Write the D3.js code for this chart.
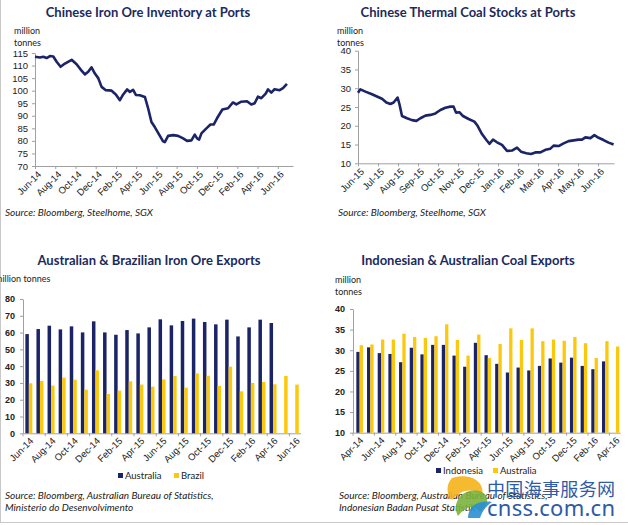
<!DOCTYPE html>
<html>
<head>
<meta charset="utf-8">
<script src="https://cdn.jsdelivr.net/npm/d3@7"></script>
<style>
  body { margin: 0; background: #fff; }
  svg { display: block; font-family: Lato, "Open Sans", sans-serif; }
  .title { font-weight: bold; font-size: 13px; fill: #1c2a5c; }
  .unit { font-size: 9px; fill: #222; }
  .src { font-style: italic; font-size: 10px; fill: #222; }
  .axis text { font-size: 9.5px; fill: #222; }
  .axis path, .axis line { stroke: #a0a0a0; }
  .legend text { font-size: 9.5px; fill: #222; }
</style>
</head>
<body>
<svg id="chart" width="628" height="525"></svg>
<script>
// Eisenerz-Lager an chinesischen Häfen (Monate ab Jun-14)
const ironMonths = [0, 0.49, 0.82, 1.15, 1.48, 1.81, 2.14, 2.53, 2.96, 3.62, 4.11, 4.6, 4.93, 5.26, 5.59, 5.92,
  6.25, 6.58, 7.0, 7.57, 7.99, 8.39, 8.72, 9.11, 9.38, 9.7, 9.97, 10.36, 10.86, 11.18, 11.51, 11.84, 12.27,
  12.66, 12.83, 13.16, 13.65, 14.14, 14.64, 15.03, 15.46, 15.79, 16.02, 16.22, 16.45, 16.94, 17.34, 17.66,
  17.99, 18.52, 19.08, 19.57, 19.9, 20.39, 20.95, 21.38, 21.71, 22.04, 22.37, 22.8, 23.03, 23.36, 23.68,
  24.18, 24.51, 24.9];
const ironValues = [113.5, 113.2, 113.5, 113.0, 113.8, 113.6, 111.5, 109.5, 110.8, 112.3, 110.5, 108, 106.5, 107.5,
  109.3, 106.8, 105, 101.5, 100.2, 100, 98.5, 96.2, 98.5, 100.5, 99.5, 100.3, 98.3, 98.2, 97.5, 93, 87.5, 85.5,
  82.5, 79.8, 79.5, 82, 82.3, 82, 81, 80, 80.2, 82.5, 81, 80.5, 83, 85, 86.5, 86.5, 89, 92.5, 93, 95.3, 94.5,
  95.6, 95.8, 94.5, 95, 97.6, 97, 98.8, 100.5, 99.2, 100.6, 100.2, 101, 102.7];
const ironTicks = ["Jun-14", "Aug-14", "Oct-14", "Dec-14", "Feb-15", "Apr-15", "Jun-15", "Aug-15", "Oct-15",
  "Dec-15", "Feb-16", "Apr-16", "Jun-16"];

// Kraftwerkskohle an chinesischen Häfen (Monate ab Jun-15)
const coalMonths = [0, 0.12, 0.37, 0.7, 1.03, 1.2, 1.42, 1.62, 1.78, 1.98, 2.07, 2.2, 2.45, 2.7, 2.92, 3.12, 3.37,
  3.62, 3.87, 4.12, 4.37, 4.62, 4.78, 4.9, 5.08, 5.25, 5.53, 5.82, 5.98, 6.2, 6.42, 6.58, 6.75, 6.95, 7.2, 7.45,
  7.7, 7.95, 8.15, 8.42, 8.65, 8.87, 9.12, 9.37, 9.62, 9.78, 10.03, 10.28, 10.53, 10.78, 11.03, 11.2, 11.37,
  11.62, 11.82, 12.03, 12.28, 12.53, 12.78];
const coalValues = [28.8, 29.7, 29.1, 28.4, 27.6, 27.2, 26.2, 25.8, 26.2, 27.5, 25.8, 22.6, 22, 21.5, 21.3, 22,
  22.7, 22.9, 23.3, 24.2, 24.8, 25.1, 25.1, 23.5, 23.6, 22.6, 21.8, 21.1, 20, 17.8, 16.2, 15.2, 16.3, 15.6,
  14.9, 13.3, 13.4, 14.2, 13.1, 12.7, 12.5, 12.9, 12.9, 13.6, 13.9, 14.7, 14.6, 15.3, 15.9, 16.1, 16.3, 16.3,
  16.9, 16.7, 17.5, 16.8, 16.2, 15.5, 15];
const coalTicks = ["Jun-15", "Jul-15", "Aug-15", "Sep-15", "Oct-15", "Nov-15", "Dec-15", "Jan-16", "Feb-16",
  "Mar-16", "Apr-16", "May-16", "Jun-16"];

// Eisenerz-Exporte Australien / Brasilien
const oreMonths = ["Jun-14", "Jul-14", "Aug-14", "Sep-14", "Oct-14", "Nov-14", "Dec-14", "Jan-15", "Feb-15",
  "Mar-15", "Apr-15", "May-15", "Jun-15", "Jul-15", "Aug-15", "Sep-15", "Oct-15", "Nov-15", "Dec-15",
  "Jan-16", "Feb-16", "Mar-16", "Apr-16", "May-16", "Jun-16"];
const australiaOre = [59.1, 62.1, 64.1, 61.9, 63.7, 60.1, 66.7, 60.1, 58.7, 61.5, 59.5, 63.1, 67.9, 64.3, 66.9,
  68.3, 66.3, 64.9, 67.7, 57.7, 63.1, 67.7, 65.7, null, null];
const brazilOre = [29.8, 31.2, 28.4, 33.1, 31.9, 26, 37.5, 23.4, 25.4, 31, 29, 27.8, 32.1, 34.1, 27.2, 35.7, 34.3,
  28.2, 39.7, 25, 30, 30.6, 29.2, 34.1, 29];

// Kohle-Exporte Indonesien / Australien
const coalExpMonths = ["Apr-14", "May-14", "Jun-14", "Jul-14", "Aug-14", "Sep-14", "Oct-14", "Nov-14", "Dec-14",
  "Jan-15", "Feb-15", "Mar-15", "Apr-15", "May-15", "Jun-15", "Jul-15", "Aug-15", "Sep-15", "Oct-15",
  "Nov-15", "Dec-15", "Jan-16", "Feb-16", "Mar-16", "Apr-16"];
const indonesiaCoal = [29.6, 30.7, 29.3, 29.1, 27.1, 30.6, 29.0, 31.3, 31.3, 28.7, 26.0, 31.8, 28.8, 26.7, 24.6,
  25.8, 25.1, 26.2, 28.0, 27.0, 28.2, 26.2, 25.4, 27.3, null];
const australiaCoal = [31.2, 31.4, 32.6, 32.6, 34.0, 33.2, 33.0, 33.4, 36.3, 32.5, 28.7, 33.8, 28.1, 31.5, 35.3,
  32.5, 35.3, 32.2, 32.6, 32.3, 33.2, 31.7, 28.1, 32.2, 30.9];

const NAVY = "#1a2466";
const YELLOW = "#fcc80c";

const svg = d3.select("#chart");

// Rahmen links und unten
svg.append("line").attr("x1", 0.5).attr("x2", 0.5).attr("y1", 0).attr("y2", 522).attr("stroke", "#c8c8c8");
svg.append("line").attr("x1", 0).attr("x2", 628).attr("y1", 522.5).attr("y2", 522.5).attr("stroke", "#c8c8c8");

function header(title, tx, ty, unitLines, ux, uy) {
    svg.append("text").attr("class", "title").attr("x", tx).attr("y", ty)
        .attr("text-anchor", "middle").text(title);
    unitLines.forEach(function(t, i) {
        svg.append("text").attr("class", "unit").attr("x", ux).attr("y", uy + i * 11.5).text(t);
    });
}

function source(lines, x, y) {
    lines.forEach(function(t, i) {
        svg.append("text").attr("class", "src").attr("x", x).attr("y", y + i * 12).text(t);
    });
}

function rotateLabels(sel) {
    sel.selectAll("text")
        .attr("text-anchor", "end")
        .attr("dx", "-0.2em")
        .attr("dy", "0.5em")
        .attr("transform", "rotate(-45)");
}

// Liniendiagramm
function lineChart(o) {
    const x = d3.scaleLinear().domain(o.xDomain).range(o.xRange);
    const y = d3.scaleLinear().domain(o.yDomain).range(o.yRange);

    svg.append("g").attr("class", "axis")
        .attr("transform", "translate(" + o.xRange[0] + ",0)")
        .call(d3.axisLeft(y).tickValues(d3.range(o.yDomain[0], o.yDomain[1] + 1, o.yStep))
            .tickSize(3).tickSizeOuter(0).tickPadding(4));

    const xa = svg.append("g").attr("class", "axis")
        .attr("transform", "translate(0," + o.yRange[0] + ")")
        .call(d3.axisBottom(x).tickValues(o.ticks.map(function(d, i) { return i * o.tickStep; }))
            .tickFormat(function(d, i) { return o.ticks[i]; })
            .tickSize(3).tickSizeOuter(0).tickPadding(3));
    rotateLabels(xa);

    const pts = o.months.map(function(m, i) { return [m, o.values[i]]; });
    svg.append("path")
        .datum(pts)
        .attr("fill", "none")
        .attr("stroke", NAVY)
        .attr("stroke-width", 2.6)
        .attr("stroke-linejoin", "round")
        .attr("d", d3.line().x(function(d) { return x(d[0]); }).y(function(d) { return y(d[1]); }));
}

// Säulendiagramm mit zwei Reihen
function barChart(o) {
    const x = d3.scaleBand().domain(o.cats).range(o.xRange);
    const y = d3.scaleLinear().domain(o.yDomain).range(o.yRange);
    const bw = o.barWidth;

    svg.append("g").attr("class", "axis")
        .attr("transform", "translate(" + o.xRange[0] + ",0)")
        .call(d3.axisLeft(y).tickValues(d3.range(o.yDomain[0], o.yDomain[1] + 1, o.yStep))
            .tickSize(3).tickSizeOuter(0).tickPadding(5))
        .selectAll("text").style("font-weight", "bold").style("font-size", "9px");

    const labelCats = o.cats.filter(function(d, i) { return i % 2 === 0; });
    const xa = svg.append("g").attr("class", "axis")
        .attr("transform", "translate(0," + o.yRange[0] + ")")
        .call(d3.axisBottom(x).tickValues(labelCats).tickSize(0).tickSizeOuter(0).tickPadding(5));
    rotateLabels(xa);

    // Teilstriche alle zwei Kategorien
    const bounds = d3.range(0, o.cats.length + 1, 2).map(function(i) { return o.xRange[0] + i * x.step(); });
    svg.append("g").selectAll("line").data(bounds).join("line")
        .attr("x1", function(d) { return d; }).attr("x2", function(d) { return d; })
        .attr("y1", o.yRange[0]).attr("y2", o.yRange[0] + 3)
        .attr("stroke", "#a0a0a0");

    [[o.a, NAVY, -bw], [o.b, YELLOW, 0]].forEach(function(s) {
        svg.append("g").selectAll("rect")
            .data(o.cats.map(function(c, i) { return { c: c, v: s[0][i] }; })
                .filter(function(d) { return d.v !== null; }))
            .join("rect")
            .attr("x", function(d) { return x(d.c) + x.bandwidth() / 2 + s[2] + o.shift; })
            .attr("width", bw)
            .attr("y", function(d) { return y(d.v); })
            .attr("height", function(d) { return o.yRange[0] - y(d.v); })
            .attr("fill", s[1]);
    });

    const lg = svg.append("g").attr("class", "legend");
    o.legend.forEach(function(l, i) {
        lg.append("rect").attr("x", l.x).attr("y", o.legendY - 6).attr("width", 5).attr("height", 5)
            .attr("fill", i === 0 ? NAVY : YELLOW);
        lg.append("text").attr("x", l.x + 7).attr("y", o.legendY).text(l.t);
    });
}

// oben links
header("Chinese Iron Ore Inventory at Ports", 148, 17, ["million", "tonnes"], 14, 34);
lineChart({
    months: ironMonths, values: ironValues, ticks: ironTicks, tickStep: 2,
    xDomain: [0, 25.5], xRange: [35, 293],
    yDomain: [70, 115], yRange: [166, 53], yStep: 5
});
source(["Source: Bloomberg, Steelhome, SGX"], 5, 216);

// oben rechts
header("Chinese Thermal Coal Stocks at Ports", 468, 17, ["million", "tonnes"], 337, 34);
lineChart({
    months: coalMonths, values: coalValues, ticks: coalTicks, tickStep: 1,
    xDomain: [0, 12.8], xRange: [358, 614],
    yDomain: [10, 40], yRange: [163.3, 50.7], yStep: 5
});
source(["Source: Bloomberg, Steelhome, SGX"], 338, 216);

// unten links
header("Australian & Brazilian Iron Ore Exports", 149, 265, ["million tonnes"], -5, 282);
barChart({
    cats: oreMonths, a: australiaOre, b: brazilOre,
    xRange: [23, 300.5], yDomain: [0, 80], yRange: [433.3, 299], yStep: 10,
    barWidth: 3.5, shift: 0.3,
    legendY: 479, legend: [{ x: 118, t: "Australia" }, { x: 174, t: "Brazil" }]
});
source(["Source: Bloomberg, Australian Bureau of Statistics,", "Ministerio do Desenvolvimento"], 5, 499);

// unten rechts
header("Indonesian & Australian Coal Exports", 468, 265, ["million", "tonnes"], 335, 283);
barChart({
    cats: coalExpMonths, a: indonesiaCoal, b: australiaCoal,
    xRange: [353, 620], yDomain: [10, 40], yRange: [432.7, 309], yStep: 5,
    barWidth: 3.3, shift: 1.3,
    legendY: 474, legend: [{ x: 436, t: "Indonesia" }, { x: 493, t: "Australia" }]
});
source(["Source: Bloomberg, Australian Bureau of Statistics,", "Indonesian Badan Pusat Statistik"], 339, 499);

// Wasserzeichen
const wm = svg.append("g");
wm.append("path").attr("d", "M452,478 C470,472 486,482 482,496 C474,488 462,488 452,500 C446,494 446,484 452,478 Z")
    .attr("fill", "#f5b21a").attr("opacity", 0.9);
wm.append("path").attr("d", "M458,516 C450,500 466,486 482,492 C490,496 488,506 480,512 C474,504 466,506 458,516 Z")
    .attr("fill", "#7bb33c").attr("opacity", 0.9);
wm.append("path").attr("d", "M468,518 C468,506 478,500 492,502 C486,506 482,512 480,518 Z")
    .attr("fill", "#2a8fd0").attr("opacity", 0.9);
wm.append("text").attr("x", 487).attr("y", 496).attr("font-family", "Noto Sans CJK SC")
    .attr("font-size", 18).attr("fill", "#2e5aa6").attr("textLength", 128).text("中国海事服务网");
wm.append("text").attr("x", 487).attr("y", 516).attr("font-family", "Noto Sans, sans-serif")
    .attr("font-size", 22).attr("fill", "#2e5aa6").attr("textLength", 128).text("cnss.com.cn");
</script>
</body>
</html>
